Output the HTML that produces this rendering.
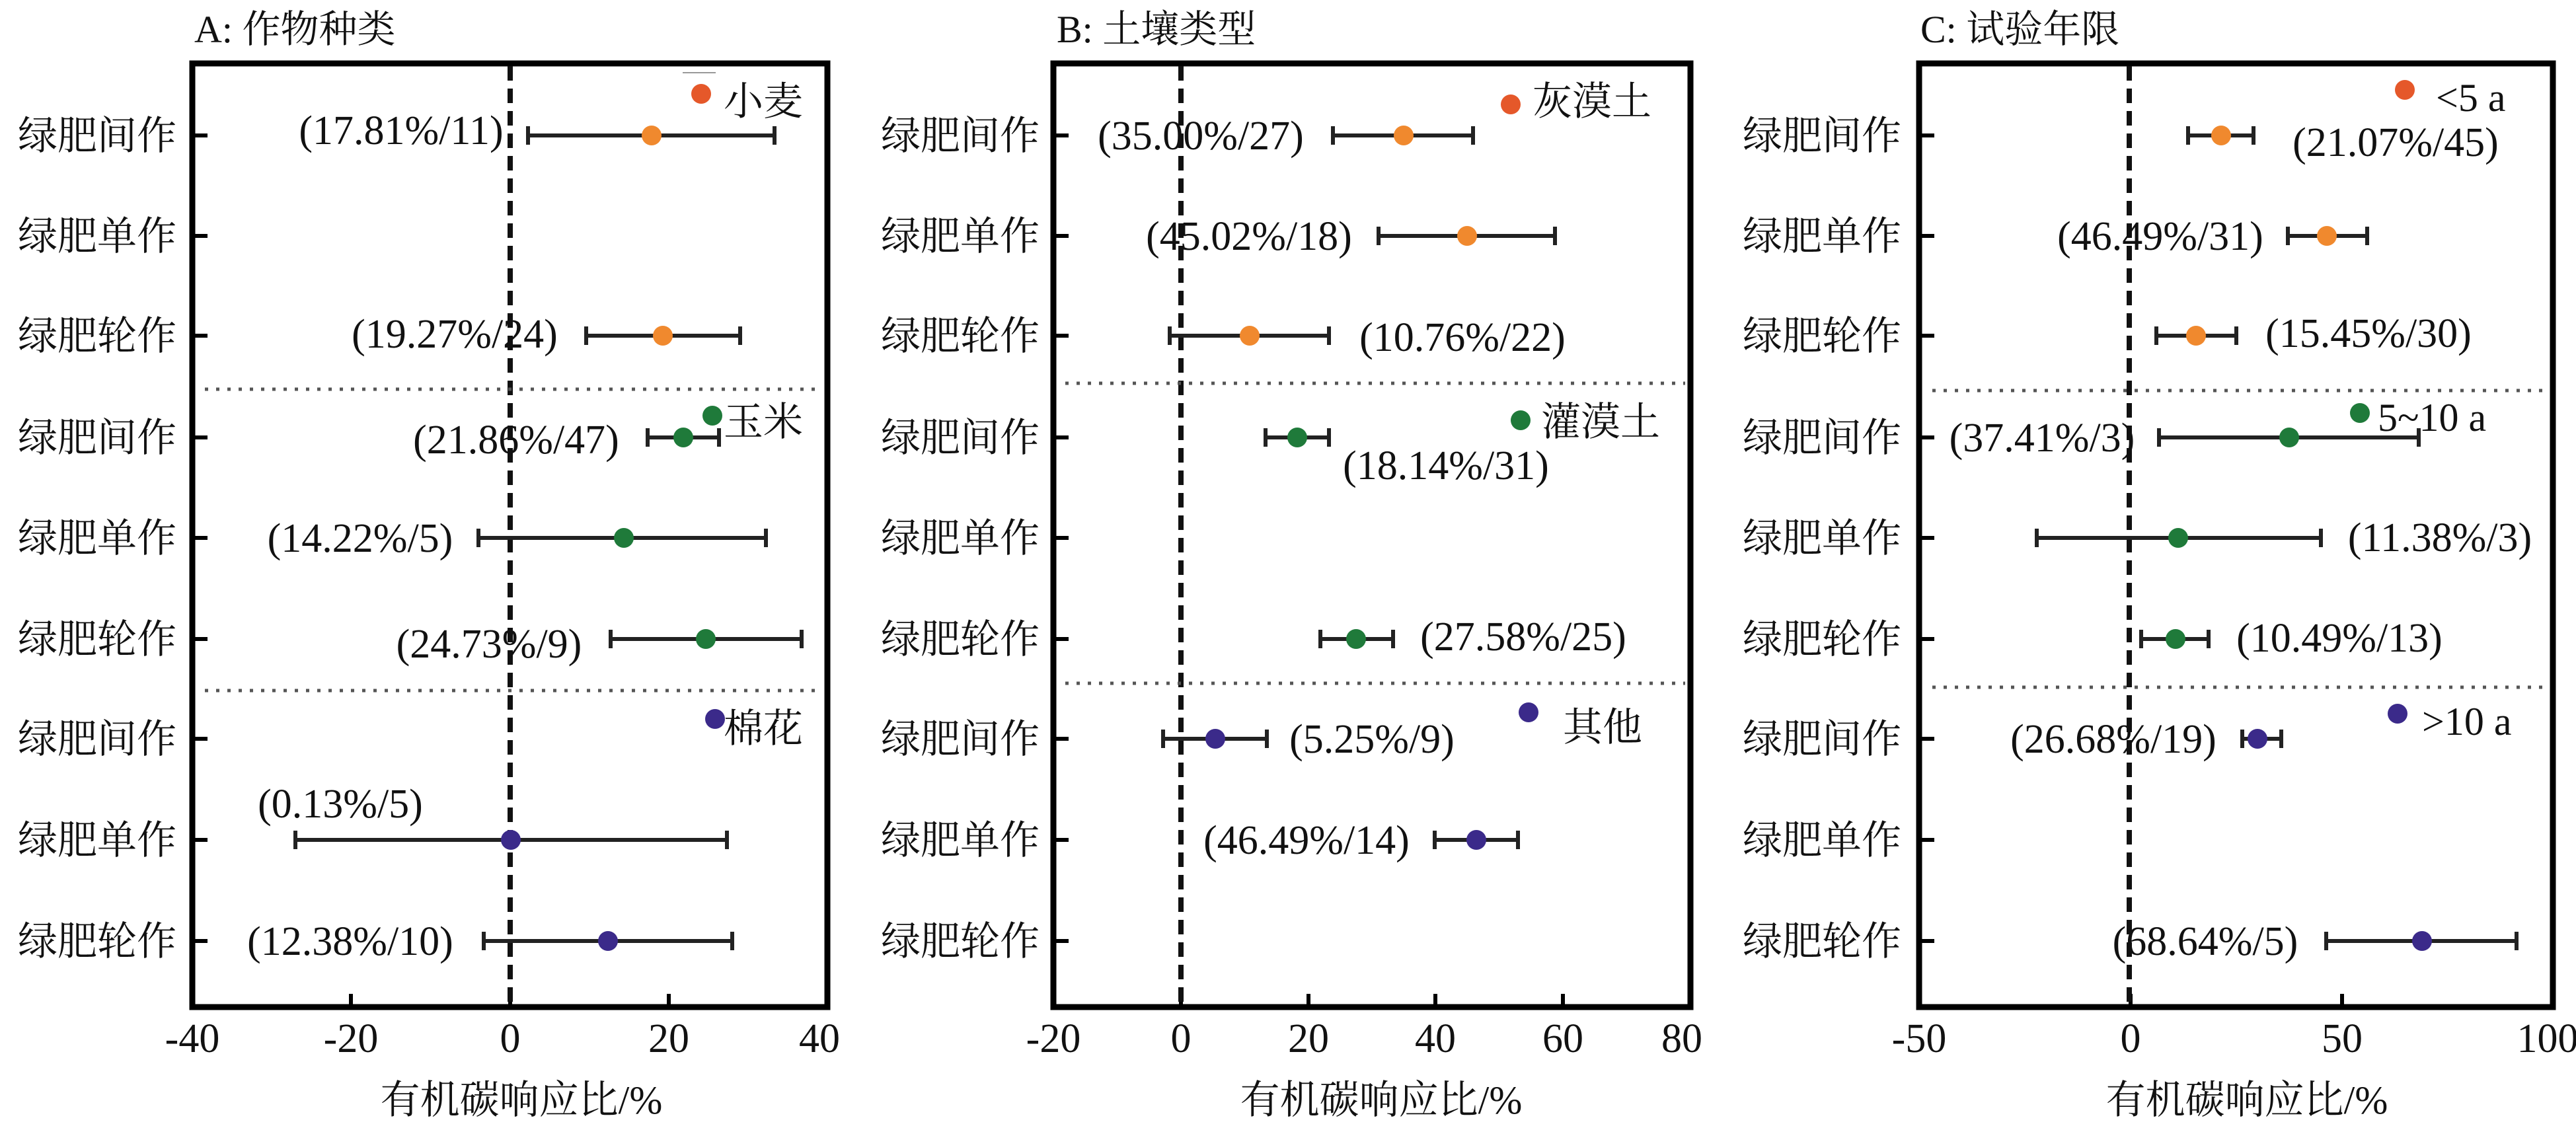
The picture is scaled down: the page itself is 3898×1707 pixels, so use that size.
<!DOCTYPE html>
<html><head><meta charset="utf-8"><style>
html,body{margin:0;padding:0;background:#fff;}
svg{display:block;}
text{font-family:"Liberation Serif","Noto Serif CJK SC",serif;fill:#111;}
.yl{font-size:60px;text-anchor:end;}
.tk{font-size:62px;text-anchor:middle;}
.ax{font-size:60px;text-anchor:middle;}
.tt{font-size:58px;}
.an{font-size:62px;text-anchor:middle;}
.lg{font-size:60px;}
.box{fill:none;stroke:#000;stroke-width:9;}
.z{stroke:#111;stroke-width:8;stroke-dasharray:22 12;}
.sep{stroke:#555;stroke-width:5;stroke-dasharray:5 12;}
.eb{stroke:#222;stroke-width:6;fill:none;}
.t{stroke:#000;stroke-width:6;}
.o{fill:#f0892e;}.r{fill:#e5582a;}.g{fill:#1f7a3a;}.p{fill:#3b2a8a;}
</style></head><body>
<svg width="3898" height="1707" viewBox="0 0 3898 1707" xmlns="http://www.w3.org/2000/svg">
<!-- ============ Panel A ============ -->
<text class="tt" x="294" y="64">A: 作物种类</text>
<rect class="box" x="291" y="96" width="961" height="1428"/>
<g class="t">
<line x1="291" y1="205" x2="314" y2="205"/><line x1="291" y1="357" x2="314" y2="357"/><line x1="291" y1="508" x2="314" y2="508"/>
<line x1="291" y1="662" x2="314" y2="662"/><line x1="291" y1="814" x2="314" y2="814"/><line x1="291" y1="967" x2="314" y2="967"/>
<line x1="291" y1="1118" x2="314" y2="1118"/><line x1="291" y1="1271" x2="314" y2="1271"/><line x1="291" y1="1424" x2="314" y2="1424"/>
<line x1="531" y1="1524" x2="531" y2="1504"/><line x1="772" y1="1524" x2="772" y2="1504"/><line x1="1012" y1="1524" x2="1012" y2="1504"/>
</g>
<g>
<text class="yl" x="267" y="226">绿肥间作</text><text class="yl" x="267" y="378">绿肥单作</text><text class="yl" x="267" y="529">绿肥轮作</text>
<text class="yl" x="267" y="683">绿肥间作</text><text class="yl" x="267" y="835">绿肥单作</text><text class="yl" x="267" y="988">绿肥轮作</text>
<text class="yl" x="267" y="1139">绿肥间作</text><text class="yl" x="267" y="1292">绿肥单作</text><text class="yl" x="267" y="1445">绿肥轮作</text>
</g>
<line class="z" x1="772" y1="100" x2="772" y2="1520"/>
<line class="sep" x1="310" y1="589" x2="1245" y2="589"/>
<line class="sep" x1="310" y1="1045" x2="1245" y2="1045"/>
<g class="eb">
<path d="M799 205H1172M799 191V219M1172 191V219"/>
<path d="M887 508H1120M887 494V522M1120 494V522"/>
<path d="M980 662H1088M980 648V676M1088 648V676"/>
<path d="M724 814H1159M724 800V828M1159 800V828"/>
<path d="M924 967H1213M924 953V981M1213 953V981"/>
<path d="M447 1271H1100M447 1257V1285M1100 1257V1285"/>
<path d="M732 1424H1108M732 1410V1438M1108 1410V1438"/>
</g>
<circle class="o" cx="986" cy="205" r="15"/><circle class="o" cx="1003" cy="508" r="15"/>
<circle class="g" cx="1034" cy="662" r="15"/><circle class="g" cx="944" cy="814" r="15"/><circle class="g" cx="1068" cy="967" r="15"/>
<circle class="p" cx="773" cy="1271" r="15"/><circle class="p" cx="920" cy="1424" r="15"/>
<circle class="r" cx="1061" cy="142" r="15"/><circle class="g" cx="1078" cy="629" r="15"/><circle class="p" cx="1082" cy="1088" r="15"/>
<line x1="1033" y1="110" x2="1083" y2="110" stroke="#999" stroke-width="2"/>
<text class="lg" x="1095" y="174">小麦</text><text class="lg" x="1095" y="659">玉米</text><text class="lg" x="1095" y="1123">棉花</text>
<text class="an" x="607" y="218">(17.81%/11)</text>
<text class="an" x="688" y="526">(19.27%/24)</text>
<text class="an" x="781" y="686">(21.86%/47)</text>
<text class="an" x="545" y="835">(14.22%/5)</text>
<text class="an" x="740" y="995">(24.73%/9)</text>
<text class="an" x="515" y="1237">(0.13%/5)</text>
<text class="an" x="530" y="1445">(12.38%/10)</text>
<g><text class="tk" x="291" y="1592">-40</text><text class="tk" x="531" y="1592">-20</text><text class="tk" x="772" y="1592">0</text><text class="tk" x="1012" y="1592">20</text><text class="tk" x="1240" y="1592">40</text></g>
<text class="ax" x="789" y="1685">有机碳响应比/%</text>

<!-- ============ Panel B ============ -->
<text class="tt" x="1599" y="64">B: 土壤类型</text>
<rect class="box" x="1594" y="96" width="964" height="1428"/>
<g class="t">
<line x1="1594" y1="205" x2="1617" y2="205"/><line x1="1594" y1="357" x2="1617" y2="357"/><line x1="1594" y1="508" x2="1617" y2="508"/>
<line x1="1594" y1="662" x2="1617" y2="662"/><line x1="1594" y1="814" x2="1617" y2="814"/><line x1="1594" y1="967" x2="1617" y2="967"/>
<line x1="1594" y1="1118" x2="1617" y2="1118"/><line x1="1594" y1="1271" x2="1617" y2="1271"/><line x1="1594" y1="1424" x2="1617" y2="1424"/>
<line x1="1787" y1="1524" x2="1787" y2="1504"/><line x1="1980" y1="1524" x2="1980" y2="1504"/><line x1="2172" y1="1524" x2="2172" y2="1504"/><line x1="2365" y1="1524" x2="2365" y2="1504"/>
</g>
<g>
<text class="yl" x="1573" y="226">绿肥间作</text><text class="yl" x="1573" y="378">绿肥单作</text><text class="yl" x="1573" y="529">绿肥轮作</text>
<text class="yl" x="1573" y="683">绿肥间作</text><text class="yl" x="1573" y="835">绿肥单作</text><text class="yl" x="1573" y="988">绿肥轮作</text>
<text class="yl" x="1573" y="1139">绿肥间作</text><text class="yl" x="1573" y="1292">绿肥单作</text><text class="yl" x="1573" y="1445">绿肥轮作</text>
</g>
<line class="z" x1="1787" y1="100" x2="1787" y2="1520"/>
<line class="sep" x1="1612" y1="580" x2="2550" y2="580"/>
<line class="sep" x1="1612" y1="1034" x2="2550" y2="1034"/>
<g class="eb">
<path d="M2017 205H2229M2017 191V219M2229 191V219"/>
<path d="M2086 357H2353M2086 343V371M2353 343V371"/>
<path d="M1770 508H2011M1770 494V522M2011 494V522"/>
<path d="M1915 662H2011M1915 648V676M2011 648V676"/>
<path d="M1998 967H2108M1998 953V981M2108 953V981"/>
<path d="M1760 1118H1917M1760 1104V1132M1917 1104V1132"/>
<path d="M2171 1271H2297M2171 1257V1285M2297 1257V1285"/>
</g>
<circle class="o" cx="2124" cy="205" r="15"/><circle class="o" cx="2220" cy="357" r="15"/><circle class="o" cx="1891" cy="508" r="15"/>
<circle class="g" cx="1963" cy="662" r="15"/><circle class="g" cx="2052" cy="967" r="15"/>
<circle class="p" cx="1839" cy="1118" r="15"/><circle class="p" cx="2234" cy="1271" r="15"/>
<circle class="r" cx="2286" cy="158" r="15"/><circle class="g" cx="2301" cy="636" r="15"/><circle class="p" cx="2313" cy="1078" r="15"/>
<text class="lg" x="2319" y="174">灰漠土</text><text class="lg" x="2332" y="659">灌漠土</text><text class="lg" x="2365" y="1121">其他</text>
<text class="an" x="1817" y="226">(35.00%/27)</text>
<text class="an" x="1890" y="378">(45.02%/18)</text>
<text class="an" x="2213" y="531">(10.76%/22)</text>
<text class="an" x="2188" y="725">(18.14%/31)</text>
<text class="an" x="2305" y="984">(27.58%/25)</text>
<text class="an" x="2076" y="1139">(5.25%/9)</text>
<text class="an" x="1977" y="1292">(46.49%/14)</text>
<g><text class="tk" x="1594" y="1592">-20</text><text class="tk" x="1787" y="1592">0</text><text class="tk" x="1980" y="1592">20</text><text class="tk" x="2172" y="1592">40</text><text class="tk" x="2365" y="1592">60</text><text class="tk" x="2545" y="1592">80</text></g>
<text class="ax" x="2090" y="1685">有机碳响应比/%</text>

<!-- ============ Panel C ============ -->
<text class="tt" x="2906" y="64">C: 试验年限</text>
<rect class="box" x="2904" y="96" width="959" height="1428"/>
<g class="t">
<line x1="2904" y1="205" x2="2927" y2="205"/><line x1="2904" y1="357" x2="2927" y2="357"/><line x1="2904" y1="508" x2="2927" y2="508"/>
<line x1="2904" y1="662" x2="2927" y2="662"/><line x1="2904" y1="814" x2="2927" y2="814"/><line x1="2904" y1="967" x2="2927" y2="967"/>
<line x1="2904" y1="1118" x2="2927" y2="1118"/><line x1="2904" y1="1271" x2="2927" y2="1271"/><line x1="2904" y1="1424" x2="2927" y2="1424"/>
<line x1="3224" y1="1524" x2="3224" y2="1504"/><line x1="3544" y1="1524" x2="3544" y2="1504"/>
</g>
<g>
<text class="yl" x="2877" y="226">绿肥间作</text><text class="yl" x="2877" y="378">绿肥单作</text><text class="yl" x="2877" y="529">绿肥轮作</text>
<text class="yl" x="2877" y="683">绿肥间作</text><text class="yl" x="2877" y="835">绿肥单作</text><text class="yl" x="2877" y="988">绿肥轮作</text>
<text class="yl" x="2877" y="1139">绿肥间作</text><text class="yl" x="2877" y="1292">绿肥单作</text><text class="yl" x="2877" y="1445">绿肥轮作</text>
</g>
<line class="z" x1="3222" y1="100" x2="3222" y2="1520"/>
<line class="sep" x1="2924" y1="591" x2="3852" y2="591"/>
<line class="sep" x1="2924" y1="1040" x2="3852" y2="1040"/>
<g class="eb">
<path d="M3311 205H3410M3311 191V219M3410 191V219"/>
<path d="M3462 357H3582M3462 343V371M3582 343V371"/>
<path d="M3263 508H3384M3263 494V522M3384 494V522"/>
<path d="M3267 662H3660M3267 648V676M3660 648V676"/>
<path d="M3082 814H3512M3082 800V828M3512 800V828"/>
<path d="M3240 967H3342M3240 953V981M3342 953V981"/>
<path d="M3393 1118H3452M3393 1104V1132M3452 1104V1132"/>
<path d="M3520 1424H3808M3520 1410V1438M3808 1410V1438"/>
</g>
<circle class="o" cx="3361" cy="205" r="15"/><circle class="o" cx="3521" cy="357" r="15"/><circle class="o" cx="3323" cy="508" r="15"/>
<circle class="g" cx="3464" cy="662" r="15"/><circle class="g" cx="3296" cy="814" r="15"/><circle class="g" cx="3292" cy="967" r="15"/>
<circle class="p" cx="3416" cy="1118" r="15"/><circle class="p" cx="3665" cy="1424" r="15"/>
<circle class="r" cx="3639" cy="136" r="15"/><circle class="g" cx="3571" cy="625" r="15"/><circle class="p" cx="3628" cy="1080" r="15"/>
<text class="lg" x="3686" y="168">&lt;5 a</text><text class="lg" x="3598" y="652">5~10 a</text><text class="lg" x="3665" y="1112">&gt;10 a</text>
<text class="an" x="3625" y="236">(21.07%/45)</text>
<text class="an" x="3269" y="378">(46.49%/31)</text>
<text class="an" x="3584" y="525">(15.45%/30)</text>
<text class="an" x="3090" y="683">(37.41%/3)</text>
<text class="an" x="3692" y="834">(11.38%/3)</text>
<text class="an" x="3540" y="986">(10.49%/13)</text>
<text class="an" x="3198" y="1139">(26.68%/19)</text>
<text class="an" x="3337" y="1445">(68.64%/5)</text>
<g><text class="tk" x="2904" y="1592">-50</text><text class="tk" x="3224" y="1592">0</text><text class="tk" x="3544" y="1592">50</text><text class="tk" x="3855" y="1592">100</text></g>
<text class="ax" x="3400" y="1685">有机碳响应比/%</text>
</svg>
</body></html>
